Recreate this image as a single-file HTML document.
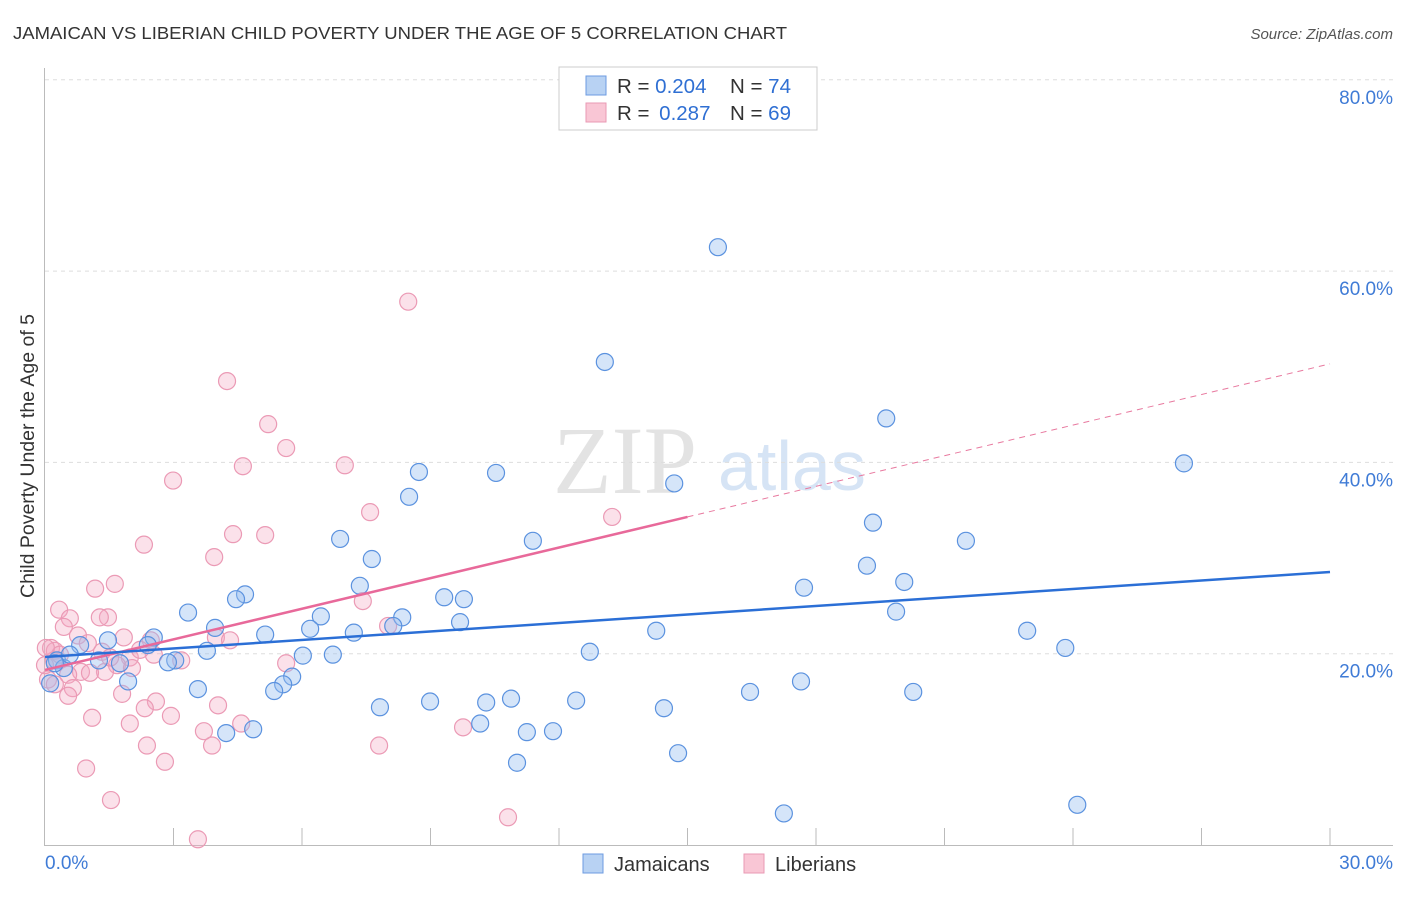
<!DOCTYPE html>
<html><head><meta charset="utf-8"><style>
body{margin:0;background:#fff;font-family:"Liberation Sans",sans-serif;}
</style></head><body>
<svg width="1406" height="892" viewBox="0 0 1406 892">
<text x="13" y="39" font-size="17.5" fill="#333" textLength="774" lengthAdjust="spacingAndGlyphs">JAMAICAN VS LIBERIAN CHILD POVERTY UNDER THE AGE OF 5 CORRELATION CHART</text>
<text x="1393" y="39" font-size="15" fill="#555" font-style="italic" text-anchor="end">Source: ZipAtlas.com</text>
<text transform="translate(34,456) rotate(-90)" font-size="19.5" fill="#333" text-anchor="middle">Child Poverty Under the Age of 5</text>
<g>
<text x="553" y="493" font-family="Liberation Serif,serif" font-size="96" fill="#e3e3e3">ZIP</text>
<text x="718" y="490" font-size="70" fill="#d6e4f5">atlas</text>
</g>
<g id="grid"></g>
<g id="axes"></g>
<g id="marks"></g>
<g>
<rect x="559" y="67" width="258" height="63" fill="#fff" stroke="#ccc"/>
<rect x="586" y="76" width="20" height="19" fill="#b8d2f3" stroke="#6d9be0"/>
<rect x="586" y="103" width="20" height="19" fill="#f9c6d5" stroke="#e99ab4"/>
<text x="617" y="93" font-size="20.5" fill="#333">R = <tspan fill="#2f6fd3">0.204</tspan><tspan x="730">N = </tspan><tspan fill="#2f6fd3">74</tspan></text>
<text x="617" y="120" font-size="20.5" fill="#333">R = <tspan fill="#2f6fd3" dx="4">0.287</tspan><tspan x="730">N = </tspan><tspan fill="#2f6fd3">69</tspan></text>
</g>
<g>
<rect x="583" y="854" width="20" height="19" fill="#b8d2f3" stroke="#6d9be0"/>
<text x="614" y="871" font-size="20" fill="#333">Jamaicans</text>
<rect x="744" y="854" width="20" height="19" fill="#f9c6d5" stroke="#e99ab4"/>
<text x="775" y="871" font-size="20" fill="#333">Liberians</text>
</g>
</svg>
<script>
const blueX=[15.71,13.07,19.64,26.59,8.73,10.53,14.69,8.50,19.33,6.89,11.39,21.50,7.63,19.19,7.35,20.06,17.72,4.67,4.46,9.32,9.78,3.34,19.87,6.44,8.34,9.69,8.13,3.97,6.19,7.21,14.27,22.93,5.14,2.54,1.47,2.40,0.82,23.82,3.78,12.72,6.72,6.02,0.28,3.04,1.26,2.87,1.75,0.44,1.94,5.77,5.56,3.57,5.35,16.46,20.27,17.65,8.99,10.30,10.88,12.40,7.82,14.45,10.16,4.86,4.23,11.25,11.86,14.78,11.02,24.10,17.25,0.12,0.23,0.58];
const blueY=[62.5,50.5,44.6,39.9,39.0,38.9,37.8,36.4,33.7,32.0,31.8,31.8,29.9,29.2,27.1,27.5,26.9,26.2,25.7,25.9,25.7,24.3,24.4,23.9,23.8,23.3,22.9,22.7,22.6,22.2,22.4,22.4,22.0,21.7,21.4,20.9,20.9,20.6,20.3,20.2,19.9,19.8,19.3,19.3,19.3,19.1,19.0,18.5,17.1,17.6,16.8,16.3,16.1,16.0,16.0,17.1,15.0,14.9,15.3,15.1,14.4,14.3,12.7,12.1,11.7,11.8,11.9,9.6,8.6,4.2,3.3,16.9,19.0,19.9];
const pinkX=[8.48,4.25,5.21,5.63,4.62,7.00,2.99,7.59,13.24,4.39,5.14,2.31,3.95,1.63,1.17,0.33,7.42,0.58,1.47,1.28,0.44,8.01,0.77,2.47,1.84,3.99,1.00,0.14,0.23,1.33,2.54,1.98,3.18,5.63,1.68,0.84,1.40,0.54,1.05,0.07,2.03,0.65,0.54,1.80,2.59,2.33,4.04,1.10,2.94,1.98,4.58,3.71,2.38,3.90,7.80,9.76,2.80,0.96,1.54,10.81,3.57,0.21,0.35,0.0,0.02,1.52,2.22,4.32,0.23];
const pinkY=[56.8,48.5,44.0,41.5,39.6,39.7,38.1,34.8,34.3,32.5,32.4,31.4,30.1,27.3,26.8,24.6,25.5,23.7,23.8,23.8,22.8,22.9,21.9,21.4,21.7,21.7,21.1,20.6,20.3,20.2,19.9,19.6,19.3,19.0,18.8,18.1,18.1,17.8,18.0,17.3,18.5,16.4,15.6,15.8,15.0,14.3,14.6,13.3,13.5,12.7,12.7,11.9,10.4,10.4,10.4,12.3,8.7,8.0,4.7,2.9,0.6,19.3,19.9,18.8,20.6,19.6,20.4,21.4,16.8];
const yTicks=[20,40,60,80];
const yTickLabels=["20.0%","40.0%","60.0%","80.0%"];
const xTickLabels=["0.0%","30.0%"];
const blueTrend=[19.66,28.54];
const pinkTrend=[18.3,50.3];
const pinkSolidEnd=15;

const NS="http://www.w3.org/2000/svg";
const sx=v=>45+v/30*1285;
const sy=v=>845-v/20*191.3;
function mk(tag,attrs,parent){const e=document.createElementNS(NS,tag);for(const k in attrs)e.setAttribute(k,attrs[k]);parent.appendChild(e);return e;}
const grid=document.getElementById('grid'),axes=document.getElementById('axes'),marks=document.getElementById('marks');
yTicks.forEach((t,i)=>{
  const l=mk('line',{x1:45,x2:1393,y1:sy(t),y2:sy(t),stroke:'#ddd','stroke-dasharray':'4,4'},grid);
  
  
  const tx=mk('text',{x:1393,y:sy(t)+24,'font-size':19,fill:'#3f7bd6','text-anchor':'end'},axes);
  tx.textContent=yTickLabels[i];
  
  
});
const ya=mk('line',{x1:44.5,x2:44.5,y1:68,y2:845,stroke:'#bbb'},axes);


const xa=mk('line',{x1:44,x2:1393,y1:845.5,y2:845.5,stroke:'#bbb'},axes);


for(let i=1;i<=10;i++){
  const t=mk('line',{x1:sx(i*3),x2:sx(i*3),y1:828,y2:845,stroke:'#bbb'},axes);
  
  
}
const xl0=mk('text',{x:45,y:869,'font-size':19,fill:'#3f7bd6'},axes);
xl0.textContent=xTickLabels[0];


const xl1=mk('text',{x:1393,y:869,'font-size':19,fill:'#3f7bd6','text-anchor':'end'},axes);
xl1.textContent=xTickLabels[1];



pinkX.forEach((x,i)=>{
  const c=mk('circle',{cx:sx(x),cy:sy(pinkY[i]),r:8.5,fill:'rgba(244,170,195,0.35)',stroke:'#eb9ab5','stroke-width':1.2},marks);
  
  
});
blueX.forEach((x,i)=>{
  const c=mk('circle',{cx:sx(x),cy:sy(blueY[i]),r:8.5,fill:'rgba(150,190,240,0.4)',stroke:'#5b92df','stroke-width':1.2},marks);
  
  
});
const pAt=x=>pinkTrend[0]+(pinkTrend[1]-pinkTrend[0])*x/30;
const pd=mk('line',{x1:sx(pinkSolidEnd),y1:sy(pAt(pinkSolidEnd)),x2:sx(30),y2:sy(pinkTrend[1]),stroke:'#e8799f','stroke-width':1,'stroke-dasharray':'6,5'},marks);


const ps=mk('line',{x1:sx(0),y1:sy(pinkTrend[0]),x2:sx(pinkSolidEnd),y2:sy(pAt(pinkSolidEnd)),stroke:'#e8699a','stroke-width':2.5},marks);


const bl=mk('line',{x1:sx(0),y1:sy(blueTrend[0]),x2:sx(30),y2:sy(blueTrend[1]),stroke:'#2b6fd6','stroke-width':2.5},marks);


</script>
</body></html>
